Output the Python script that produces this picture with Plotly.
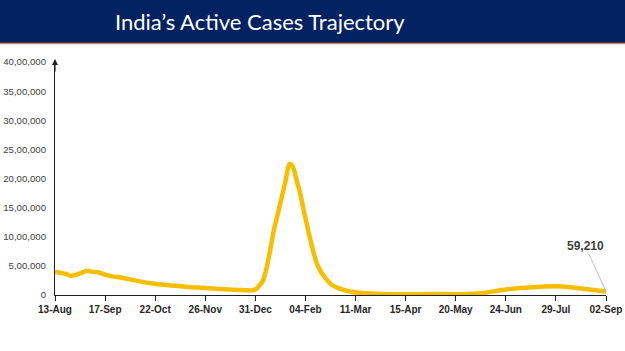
import plotly.graph_objects as go

title_text = "India’s Active Cases Trajectory"

dates = ["2021-08-13", "2021-08-17", "2021-08-21", "2021-08-24", "2021-08-28", "2021-09-01",
         "2021-09-04", "2021-09-08", "2021-09-12", "2021-09-17", "2021-09-22", "2021-09-28",
         "2021-10-05", "2021-10-12", "2021-10-19", "2021-10-26", "2021-11-02", "2021-11-09",
         "2021-11-16", "2021-11-26", "2021-12-05", "2021-12-15", "2021-12-25", "2021-12-29",
         "2022-01-01", "2022-01-03", "2022-01-05", "2022-01-07", "2022-01-10", "2022-01-13",
         "2022-01-16", "2022-01-19", "2022-01-21", "2022-01-23", "2022-01-24", "2022-01-25",
         "2022-01-27", "2022-01-29", "2022-01-31", "2022-02-03", "2022-02-06", "2022-02-09",
         "2022-02-12", "2022-02-15", "2022-02-18", "2022-02-22", "2022-02-28", "2022-03-07",
         "2022-03-14", "2022-03-21", "2022-03-31", "2022-04-15", "2022-05-01", "2022-05-20",
         "2022-06-01", "2022-06-10", "2022-06-24", "2022-07-10", "2022-07-29", "2022-08-10",
         "2022-08-20", "2022-09-02"]

active_cases = [395000, 380000, 360000, 330000, 350000, 385000,
                415000, 400000, 390000, 350000, 320000, 300000,
                265000, 230000, 200000, 180000, 165000, 150000,
                135000, 120000, 105000, 90000, 80000, 80000,
                110000, 170000, 230000, 380000, 720000, 1120000,
                1420000, 1740000, 1950000, 2200000, 2250000, 2240000,
                2150000, 1950000, 1780000, 1430000, 1100000, 790000,
                540000, 390000, 290000, 180000, 110000, 60000,
                38000, 27000, 17000, 12000, 18000, 15000,
                22000, 40000, 95000, 130000, 150000, 130000,
                100000, 59210]

x_tick_start = "2021-08-13"
x_end = "2022-09-02"
y_ticks = [0, 500000, 1000000, 1500000, 2000000, 2500000, 3000000, 3500000, 4000000]
y_tick_labels = ["0", "5,00,000", "10,00,000", "15,00,000", "20,00,000",
                 "25,00,000", "30,00,000", "35,00,000", "40,00,000"]
last_label = "59,210"

W, H = 625, 351
ml, mr, mt, mb = 55, 19, 62, 56
pw, ph = W - ml - mr, H - mt - mb

fig = go.Figure()
fig.add_trace(go.Scatter(
    x=dates, y=active_cases, mode="lines",
    line=dict(color="#F7BE00", width=4.5, shape="spline", smoothing=0.5),
    hoverinfo="skip", showlegend=False))

fig.update_layout(
    width=W, height=H,
    margin=dict(l=ml, r=mr, t=mt, b=mb, pad=0, autoexpand=False),
    paper_bgcolor="white", plot_bgcolor="white",
    font=dict(family="Liberation Sans, Arial, sans-serif", color="#404040", size=10),
    xaxis=dict(
        range=[x_tick_start, x_end], type="date", automargin=False,
        tick0=x_tick_start, dtick=35 * 86400000, tickformat="%d-%b",
        showgrid=False, zeroline=False,
        showline=True, linecolor="#202020", linewidth=1.2,
        ticks="outside", ticklen=5, tickcolor="#202020", tickwidth=1,
        tickfont=dict(family="Liberation Sans, Arial, sans-serif", size=10, color="#262626", weight="bold"),
        fixedrange=True),
    yaxis=dict(
        range=[0, 4000000], tickvals=y_ticks, ticktext=y_tick_labels, automargin=False,
        showgrid=False, zeroline=False,
        showline=True, linecolor="#202020", linewidth=1.2,
        ticks="", ticklabelstandoff=6,
        tickfont=dict(size=9.6, color="#404040"),
        fixedrange=True),
    shapes=[
        dict(type="rect", xref="paper", yref="paper",
             x0=-ml / pw, x1=1 + mr / pw, y0=1 + (mt - 43) / ph, y1=1 + mt / ph,
             fillcolor="#022262", line=dict(width=0), layer="above"),
        dict(type="line", xref="paper", yref="paper",
             x0=-ml / pw, x1=1 + mr / pw, y0=1 + (mt - 43.5) / ph, y1=1 + (mt - 43.5) / ph,
             line=dict(color="#D8825A", width=1.5)),
    ],
    annotations=[
        dict(text=title_text, xref="paper", yref="paper",
             x=(260 - ml) / pw, y=1 + (mt - 21.5) / ph, xanchor="center", yanchor="middle",
             showarrow=False,
             font=dict(family="Lato, Open Sans, sans-serif", size=22, color="white")),
        dict(text="", xref="paper", yref="paper", x=0, y=1 + 3 / ph,
             showarrow=True, arrowhead=2, arrowsize=1, arrowwidth=1.2, arrowcolor="#202020",
             ax=0, ay=14),
        dict(text="<b>" + last_label + "</b>", x=dates[-1], y=active_cases[-1],
             xref="x", yref="y", showarrow=True, arrowhead=0, arrowwidth=0.8,
             arrowcolor="#B0B0B0", ax=-21, ay=-46,
             font=dict(size=12, color="#404040")),
    ],
)

fig.write_html("out.html")
